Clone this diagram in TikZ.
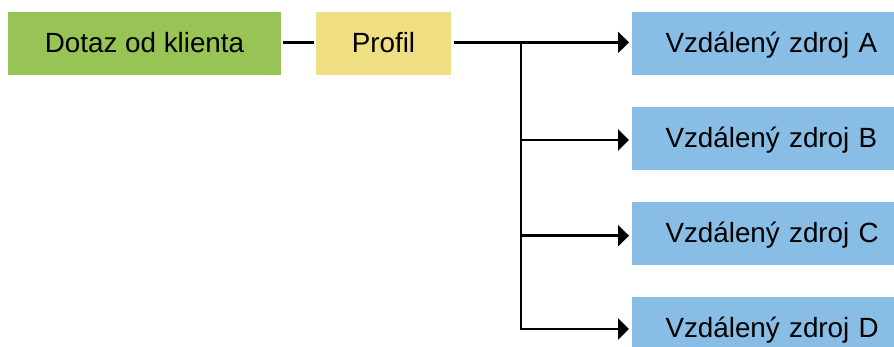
\documentclass[tikz,border=0pt]{standalone}
\usepackage{fontspec}
\setmainfont{Liberation Sans}
\usetikzlibrary{arrows.meta}
\definecolor{boxgreen}{HTML}{98C455}
\definecolor{boxyellow}{HTML}{F0DF82}
\definecolor{boxblue}{HTML}{88BDE5}
\tikzset{
  x=1pt,y=-1pt,
  box/.style={inner sep=0pt,outer sep=0pt,minimum height=63pt,text height=19pt,text depth=0pt,font=\fontsize{27.8}{30}\selectfont},
  src/.style={box,fill=boxblue,text width=245pt,align=left,minimum width=278pt,inner xsep=33.5pt,anchor=west},
  conn/.style={line width=2.4pt,black},
  arr/.style={conn,-{Triangle[length=11pt,width=21pt]},shorten >=3pt}
}
\begin{document}
\begin{tikzpicture}
\useasboundingbox (0,0) rectangle (894,347);
\node[box,fill=boxgreen,minimum width=273pt] (client) at (144.5,43.2) {Dotaz od klienta};
\node[box,fill=boxyellow,minimum width=135pt] (prof) at (383.5,43.2) {Profil};
\node[src] (a) at (632,43.2) {Vzdálený zdroj A};
\node[src,text height=17.5pt] (b) at (632,138.4) {Vzdálený zdroj B};
\node[src] (c) at (632,233.3) {Vzdálený zdroj C};
\node[src,text height=17.5pt] (d) at (632,328.6) {Vzdálený zdroj D};
\coordinate (trunk) at (521,42.4);
\coordinate (pb) at ([yshift=-1.6pt]b.west);
\coordinate (pc) at ([yshift=-2.4pt]c.west);
\coordinate (pd) at ([yshift=-0.4pt]d.west);
\draw[conn,shorten <=2pt,shorten >=2pt] ([yshift=0.8pt]client.east) -- ([yshift=0.8pt]prof.west);
\draw[arr,shorten <=3pt] ([yshift=0.8pt]prof.east) -- ([yshift=0.8pt]a.west);
\draw[conn,line cap=rect] (trunk) -- (trunk |- pd);
\draw[arr] (trunk |- pb) -- (pb);
\draw[arr] (trunk |- pc) -- (pc);
\draw[arr] (trunk |- pd) -- (pd);
\end{tikzpicture}
\end{document}
